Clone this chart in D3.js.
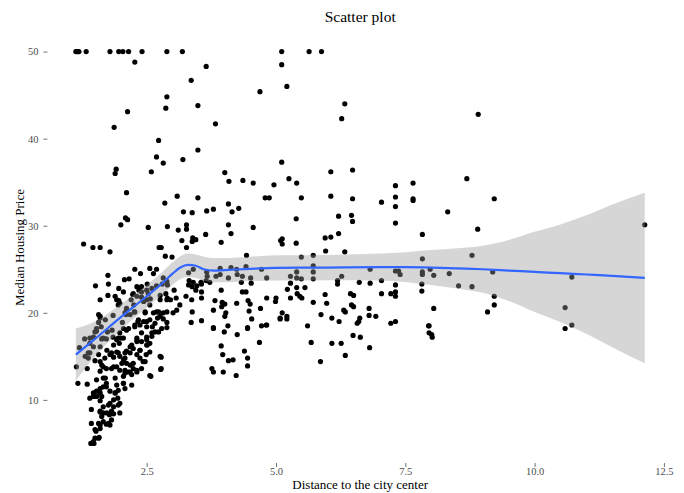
<!DOCTYPE html>
<html>
<head>
<meta charset="utf-8">
<script src="https://cdn.jsdelivr.net/npm/d3@7"></script>
<style>
  html, body { margin: 0; padding: 0; background: #ffffff; }
  #chart { width: 684px; height: 493px; }
  text { font-family: "Liberation Serif", "Times New Roman", serif; }
</style>
</head>
<body>
<div id="chart"></div>
<script>
/* Scatter plot: distance to city center vs median housing price,
   with a loess-style smooth line and its confidence band. */

/* ── data ─────────────────────────────────────────────── */

// [distance, median price]
const houses = [
  // price capped at 50 and the sparse upper area
  [1.13,50],[1.15,50],[1.17,50],[1.19,50],[1.33,50],[1.79,50],[1.96,50],[2.04,50],[2.15,50],[2.41,50],
  [2.89,50],[3.19,50],[5.11,50],[5.64,50],[5.88,50],
  [2.27,48.8],[3.65,48.3],[3.36,46.7],[2.89,44.8],[2.87,43.5],[3.49,43.8],[2.13,43.1],[1.87,41.3],[3.83,41.7],
  [2.73,39.8],[3.49,38.7],[2.69,37.9],[2.82,37.2],[3.20,37.6],[1.91,36.5],[1.89,36.0],[2.59,36.2],[4.01,36.1],
  [4.09,35.1],[2.11,33.8],[3.09,33.4],[3.49,33.2],
  [5.11,48.5],[4.69,45.4],[5.21,46.0],[6.33,44.0],[6.27,42.3],[5.11,37.3],[6.06,36.2],[6.48,36.4],[4.36,35.2],
  [4.56,34.9],[4.96,34.7],[5.25,35.4],[5.40,34.9],[7.31,34.6],[7.65,34.9],[4.79,33.2],[4.87,33.2],[5.49,33.2],
  [6.06,33.4],[6.48,33.1],[7.31,33.3],[7.65,33.1],
  [8.91,42.8],[8.69,35.4],[9.22,33.1],
  // left band, price 19-31
  [2.09,30.9],[2.13,30.7],[2.00,30.1],[2.53,29.8],[1.28,27.9],[1.46,27.5],[1.60,27.5],[1.79,27.0],[2.74,27.5],
  [2.27,25.0],[2.38,24.5],[2.69,25.0],[1.75,24.3],[2.07,23.8],[2.16,23.9],[1.76,23.3],[1.51,23.1],[1.96,22.8],
  [2.31,23.0],[2.51,23.3],[2.69,23.1],[1.89,21.9],[1.75,22.0],[1.60,21.5],[1.96,21.4],[2.23,22.1],[2.40,21.8],
  [2.53,22.2],[1.95,20.9],[2.11,20.4],[2.25,20.9],[2.44,21.3],[2.57,21.6],[1.60,19.6],[2.10,19.8],[2.26,20.1],
  [2.47,20.0],[2.69,20.1],[1.57,18.9],[2.03,18.9],[2.33,19.0],[2.50,19.0],[2.71,19.4],
  [1.53,18.2],[1.62,18.4],[1.40,16.5],[1.70,19.2],[1.85,19.7],[2.20,21.5],[2.35,22.6],[1.30,17.0],[1.20,16.0],
  [2.56,25.1],[2.63,24.5],[2.05,22.4],[2.40,23.0],[1.92,21.5],[1.98,21.1],[2.24,22.2],[2.31,21.9],[2.40,22.4],
  [2.50,22.6],[2.60,22.8],[2.82,24.0],[2.89,23.6],[2.76,21.5],[2.89,21.5],[2.11,20.5],[2.08,20.0],[2.18,19.8],
  [2.27,20.1],[2.50,21.5],[2.56,20.9],[2.47,20.1],[2.63,20.0],[1.57,19.8],[1.60,19.4],[2.73,20.1],[2.82,20.0],
  [2.76,19.6],[2.34,19.2],[2.44,19.0],[2.27,18.6],[2.56,19.2],[2.05,18.2],[2.15,18.2],[1.98,17.7],[2.66,18.8],
  [2.79,18.2],[2.73,17.8],[1.66,17.1],[1.72,17.0],[1.85,17.2],[1.95,17.1],[2.31,17.1],[2.40,17.7],[2.50,17.2],
  [2.60,17.7],[1.50,17.8],[1.40,17.1],
  // distance 2.7-5
  [2.85,32.6],[4.08,32.5],[4.28,32.0],[4.15,31.6],[3.21,31.6],[3.38,31.5],[3.66,31.7],[3.79,31.9],[2.90,29.9],
  [3.27,30.1],[3.27,29.6],[3.11,29.5],[4.08,30.1],[4.56,29.8],[4.13,29.1],[3.64,29.0],[3.18,28.3],[3.39,28.6],
  [3.45,28.4],[3.38,28.2],[3.27,27.5],[3.94,28.1],[2.78,27.5],[2.86,26.5],[2.99,26.4],[4.43,26.6],[5.09,28.3],
  [3.31,24.6],[3.40,25.0],[3.66,24.7],[3.92,25.1],[4.13,25.2],[4.24,25.0],[4.42,25.3],[4.72,25.0],[3.67,24.2],
  [3.84,24.2],[3.92,24.4],[4.08,24.0],[4.25,24.4],[4.35,24.2],[4.82,24.0],[2.80,23.3],[2.90,23.2],[3.32,23.7],
  [3.40,23.5],[3.55,23.5],[3.65,23.7],[3.72,23.5],[4.51,24.0],[3.31,23.2],[3.38,23.0],[3.47,23.1],[3.56,23.3],
  [4.33,23.5],[4.52,23.4],[3.03,22.6],[2.87,22.2],[2.76,22.0],[3.45,22.6],[3.56,22.4],[3.94,22.6],[4.35,22.4],
  [4.42,22.4],[2.90,21.7],[2.96,21.5],[3.07,21.7],[3.26,21.9],[3.37,21.5],[3.56,21.7],[3.82,21.4],[3.96,21.2],
  [4.01,21.0],[3.95,20.7],[4.24,21.1],[4.46,21.4],[4.50,21.0],[4.48,20.2],[4.70,20.5],[4.82,21.7],[5.00,21.7],
  [4.99,21.3],[3.14,20.9],[3.08,20.3],[3.01,20.0],[2.89,20.1],[2.82,19.3],[2.89,18.9],[3.38,20.1],[3.56,19.1],
  [3.79,20.3],[4.03,20.0],[4.01,19.6],[4.07,18.5],[3.79,18.3],[3.36,18.9],[4.53,19.3],[5.08,19.4],[4.82,18.6],
  // distance 5-9
  [7.04,32.7],[7.31,32.2],[7.65,32.9],[8.32,31.6],[5.39,30.8],[6.21,31.1],[6.46,31.2],[6.48,30.5],[7.31,30.3],
  [8.90,29.6],[5.12,28.5],[5.12,27.9],[5.39,28.0],[5.95,28.6],[6.06,28.7],[6.21,29.1],[7.83,29.0],[5.96,27.1],
  [6.33,27.0],[5.49,26.4],[5.72,26.6],[5.72,25.4],[7.83,26.2],[8.79,26.6],[5.40,24.7],[5.40,24.0],[5.28,24.2],
  [5.49,23.9],[5.72,24.7],[5.72,23.9],[6.27,24.2],[6.19,23.7],[6.82,25.0],[7.31,24.8],[7.40,24.4],[7.37,24.8],
  [7.83,24.7],[7.83,24.4],[7.98,25.0],[8.05,24.3],[8.35,24.5],[8.79,23.0],[8.53,23.1],[5.28,23.4],[5.22,22.7],
  [5.40,22.9],[5.56,22.9],[6.19,23.3],[6.61,23.5],[6.82,23.4],[7.04,23.7],[7.31,23.2],[7.82,23.3],[7.82,22.5],
  [5.41,22.2],[5.46,21.9],[5.50,21.7],[5.28,21.7],[5.95,22.1],[5.98,21.1],[5.72,21.2],[6.44,22.2],[6.50,22.0],
  [7.04,22.2],[7.22,22.2],[7.31,22.4],[7.31,21.9],[6.46,20.9],[6.50,20.7],[6.31,20.3],[6.34,20.1],[6.80,20.5],
  [8.05,20.5],[5.12,20.0],[5.08,19.3],[5.21,19.6],[5.21,19.3],[5.87,19.8],[6.08,19.4],[6.62,19.4],[6.60,19.0],
  [6.80,19.7],[6.93,19.6],[5.61,18.5],[6.22,19.0],[6.57,18.8],[7.22,18.8],[7.31,19.0],[7.95,18.5],
  // far right
  [12.13,30.1],[9.19,24.7],[10.72,24.1],[9.22,21.9],[9.22,20.9],[9.09,20.1],[10.59,20.6],[10.72,18.6],[10.59,18.2],
  // dense lower-left cluster
  [1.53,17.9],[1.47,17.2],[1.63,17.0],[1.74,17.8],[1.83,18.0],[1.31,15.0],[1.37,14.8],[1.14,13.8],[1.35,13.6],
  [1.50,14.5],[1.40,15.4],[1.17,11.9],[1.35,11.8],[1.53,12.3],[1.60,13.3],[1.70,12.5],[1.72,11.5],[1.89,12.5],
  [1.92,11.7],[1.60,11.3],[1.53,11.0],[1.47,10.4],[1.40,10.2],[1.63,10.4],[1.60,9.9],[1.89,10.8],[1.94,10.2],
  [1.95,9.4],[1.79,9.6],[1.43,8.9],[1.60,8.6],[1.66,8.5],[1.78,8.3],[1.86,8.4],[1.82,7.7],[1.72,7.2],
  [1.79,7.1],[1.43,7.3],[1.60,7.1],[1.52,6.4],[1.50,5.6],[1.58,5.7],[1.42,5.0],[1.48,5.0],[1.98,8.5],
  [2.11,18.0],[2.27,18.4],[2.37,18.6],[2.50,18.4],[2.61,18.4],[1.92,16.9],[2.00,17.1],[1.86,16.3],[1.97,16.5],
  [2.05,17.1],[1.73,15.7],[1.79,15.2],[1.69,14.8],[1.86,14.9],[1.95,15.4],[1.98,15.0],[2.08,14.8],[2.11,15.6],
  [2.18,16.1],[2.31,16.9],[2.40,16.7],[2.50,16.9],[2.60,17.3],[2.66,17.8],[2.24,15.9],[2.37,15.7],[2.49,15.2],
  [2.51,16.3],[2.56,15.5],[1.60,14.4],[1.66,13.8],[1.72,13.6],[1.82,13.6],[1.92,13.8],[2.02,14.2],[2.08,13.4],
  [2.18,14.0],[2.24,13.6],[2.31,13.2],[2.43,14.4],[2.40,13.6],[2.21,12.9],[2.15,13.2],[2.05,12.7],[2.58,12.7],
  [2.21,11.7],[2.05,11.9],[1.95,11.1],[2.08,11.3],[1.76,9.4],[1.86,9.2],
  [1.37,15.4],[1.60,16.1],[1.47,16.1],[1.57,15.2],[1.82,15.4],[1.92,15.5],[2.05,14.6],[2.11,14.2],[2.21,16.3],
  [2.31,16.7],[2.37,15.7],[2.50,16.3],[2.56,16.5],[2.76,15.0],[2.77,13.5],[2.56,12.8],[2.24,14.2],[2.31,13.4],
  [2.47,14.4],[1.63,14.0],[1.86,13.8],[1.98,13.4],[2.08,13.1],[2.18,13.2],[1.66,12.5],[1.72,11.9],[1.66,11.5],
  [2.05,11.9],[1.47,10.8],[1.53,10.4],[1.60,10.8],[1.79,11.0],[1.89,10.8],[1.86,10.0],[1.98,9.6],[1.66,9.2],
  [1.60,8.7],[1.63,8.1],[1.73,8.5],[1.82,8.7],[1.76,7.3],[1.66,7.5],[1.57,7.3],[1.50,6.6],[1.60,6.7],
  [1.57,5.6],[1.47,5.2],[2.31,15.2],[2.37,14.8],[2.08,15.4],[2.18,15.4],
  // lower middle
  [2.89,18.3],[3.79,18.2],[4.00,17.8],[4.25,17.5],[4.45,18.3],[4.45,18.2],[4.72,18.5],[4.81,18.6],[3.94,16.2],
  [3.97,15.2],[4.08,14.5],[4.17,14.6],[4.45,14.8],[4.45,13.9],[4.39,15.6],[4.68,16.6],[3.76,13.6],[3.79,13.2],
  [3.98,13.2],[4.23,12.8],[2.78,14.9],[2.78,13.6],
  [5.68,16.6],[5.86,14.4],[6.08,16.5],[6.26,16.5],[6.34,15.1],[6.49,17.4],[6.63,17.2],[6.81,16.0],[7.96,18.5],
  [7.96,17.7],[8.01,17.5],[8.02,17.2]
];

// smooth line and its band
const smoothDis = [1.13, 1.5, 2.0, 2.5, 2.8, 3.0, 3.15, 3.3, 3.45, 3.6, 3.8, 4.0, 4.5, 5.0, 6.0, 7.0, 7.5, 8.0, 8.5, 9.0, 9.5, 10.0, 10.5, 11.0, 11.5, 12.13];
const smoothFit = [15.2, 17.0, 19.5, 21.9, 23.4, 24.5, 25.2, 25.5, 25.4, 25.0, 24.85, 24.9, 25.05, 25.15, 25.2, 25.25, 25.25, 25.2, 25.1, 25.0, 24.85, 24.7, 24.55, 24.4, 24.25, 24.0];
const smoothLo  = [12.2, 15.0, 18.0, 20.6, 22.1, 23.2, 23.85, 24.1, 24.0, 23.7, 23.5, 23.5, 23.65, 23.7, 23.75, 23.7, 23.55, 23.2, 22.8, 22.3, 21.35, 20.1, 18.95, 17.6, 16.05, 14.2];
const smoothHi  = [18.2, 19.0, 21.0, 23.2, 24.7, 25.8, 26.5, 26.8, 26.7, 26.45, 26.3, 26.3, 26.45, 26.6, 26.65, 26.8, 26.95, 27.2, 27.4, 27.7, 28.35, 29.3, 30.15, 31.2, 32.45, 33.8];

const xTicks = [2.5, 5.0, 7.5, 10.0, 12.5];
const yTicks = [10, 20, 30, 40, 50];

/* ── layout ───────────────────────────────────────────── */

const W = 684, H = 493;
const margin = { top: 32, right: 11, bottom: 30, left: 47.4 };

const x = d3.scaleLinear().domain([0.58, 12.676]).range([margin.left, W - margin.right]);
const y = d3.scaleLinear().domain([2.75, 52.25]).range([H - margin.bottom, margin.top]);

const svg = d3.select('#chart')
  .append('svg')
  .attr('width', W)
  .attr('height', H)
  .style('display', 'block');

svg.append('rect').attr('width', W).attr('height', H).attr('fill', '#ffffff');

/* ── points, then band over them (as ggplot draws it) ─── */

svg.append('g')
  .selectAll('circle')
  .data(houses)
  .join('circle')
  .attr('cx', d => x(d[0]))
  .attr('cy', d => y(d[1]))
  .attr('r', 2.6)
  .attr('fill', '#000000');

const band = smoothDis.map((d, i) => ({ dis: d, fit: smoothFit[i], lo: smoothLo[i], hi: smoothHi[i] }));

svg.append('path')
  .datum(band)
  .attr('d', d3.area()
    .x(d => x(d.dis))
    .y0(d => y(d.lo))
    .y1(d => y(d.hi))
    .curve(d3.curveMonotoneX))
  .attr('fill', '#999999')
  .attr('fill-opacity', 0.4);

svg.append('path')
  .datum(band)
  .attr('d', d3.line()
    .x(d => x(d.dis))
    .y(d => y(d.fit))
    .curve(d3.curveMonotoneX))
  .attr('fill', 'none')
  .attr('stroke', '#3366FF')
  .attr('stroke-width', 2.2);

/* ── axes ─────────────────────────────────────────────── */

const xAxis = svg.append('g')
  .attr('transform', `translate(0,${H - margin.bottom})`)
  .call(d3.axisBottom(x).tickValues(xTicks).tickFormat(d3.format('.1f')).tickSize(4).tickPadding(1));

const yAxis = svg.append('g')
  .attr('transform', `translate(${margin.left},0)`)
  .call(d3.axisLeft(y).tickValues(yTicks).tickFormat(d3.format('d')).tickSize(4).tickPadding(5));

[xAxis, yAxis].forEach(g => {
  g.attr('font-family', '"Liberation Serif", "Times New Roman", serif');
  g.select('.domain').remove();
  g.selectAll('.tick line').attr('stroke', '#4d4d4d').attr('stroke-width', 0.8);
  g.selectAll('.tick text')
    .attr('fill', '#4d4d4d')
    .style('font-size', '10.5px');
});

/* ── titles ───────────────────────────────────────────── */

const midX = (margin.left + W - margin.right) / 2;
const midY = (margin.top + H - margin.bottom) / 2;

svg.append('text')
  .attr('x', midX)
  .attr('y', 22)
  .attr('text-anchor', 'middle')
  .attr('font-size', '15.5px')
  .attr('fill', '#000000')
  .text('Scatter plot');

svg.append('text')
  .attr('x', midX)
  .attr('y', 489)
  .attr('text-anchor', 'middle')
  .attr('font-size', '13px')
  .attr('fill', '#000000')
  .text('Distance to the city center');

svg.append('text')
  .attr('transform', `translate(24,${midY}) rotate(-90)`)
  .attr('text-anchor', 'middle')
  .attr('font-size', '13px')
  .attr('fill', '#000000')
  .text('Median Housing Price');
</script>
</body>
</html>
